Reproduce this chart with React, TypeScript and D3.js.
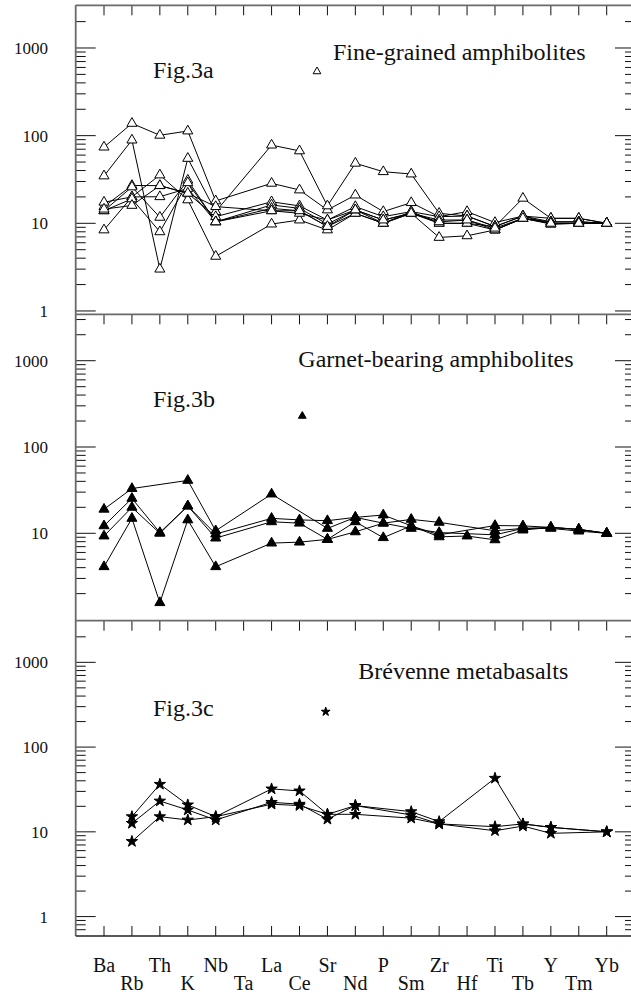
import React, { useEffect, useRef } from "react";
import * as d3 from "d3";

const WIDTH = 631;
const HEIGHT = 993;

const ELEMENTS = ["Ba", "Rb", "Th", "K", "Nb", "Ta", "La", "Ce", "Sr", "Nd", "P", "Sm", "Zr", "Hf", "Ti", "Tb", "Y", "Tm", "Yb"];

// Fig.3a - fine-grained amphibolites (open triangles)
//             Ba    Rb   Th    K    Nb  Ta    La   Ce   Sr    Nd    P     Sm    Zr    Hf    Ti    Tb    Y     Tm    Yb
const FINE_1 = [74, 138, 101, 113, 18, null, 28.6, 24, 14.2, 21, 13.6, 17.2, 11.9, 13.6, 10.2, 12.1, 11.4, 11.4, 10];
const FINE_2 = [34.7, 89, 3, 55, 13.6, null, 78, 67, 15.8, 48.4, 38.8, 36.5, 13, 12.1, 9.2, 19.3, 11.4, 11.4, 10];
const FINE_3 = [8.4, 20, 35.6, 18.5, 4.2, null, 9.8, 10.9, 8.4, 13, 10, 13, 6.9, 7.2, 8.4, 11.4, 10.4, 10.4, 10];
const FINE_4 = [15.5, 27, 26.9, 22, 11.9, null, 17.6, 15.8, 10.9, 15.5, 11.9, 13.6, 11.9, 12.1, 9.2, 12.1, 10.4, 10.4, 10];
const FINE_5 = [13.9, 26, 11.7, 31, 10.4, null, 16.2, 14.8, 9.8, 14.2, 10.9, 13, 10.9, 10.9, 8.4, 11.4, 9.8, 10, 10];
const FINE_6 = [17.4, 20, 20.1, 25, 10.4, null, 14.8, 13.9, 9.2, 13, 10, 13, 10, 10, 8.4, 11.4, 10, 10, 10];
const FINE_7 = [13.9, 19, 8, 29, 10.4, null, 13.9, 13, 10.9, 14.2, 10, 13.6, 10, 10, 9.2, 12.1, 9.8, 10, 10];
const FINE_8 = [14.5, 16, 26.9, 22, 15.5, null, 13.9, 13.9, 9.2, 14.2, 10.9, 13, 10.4, 10.9, 8.8, 11.4, 10, 10, 10];

// Fig.3b - garnet-bearing amphibolites (filled triangles)
const GARNET_1 = [19, 33, null, 41, 10.7, null, 28.5, null, 11.4, 15.3, 13.1, 14.5, 13.4, null, 10.7, 11.4, 11.7, 11.1, 10];
const GARNET_2 = [12.2, 25.4, 10.2, 20.7, 9.8, null, 14.9, 14.3, 14, 15.3, 16.3, 12.2, 9.6, null, 12.3, 12.2, 11.7, 11.1, 10];
const GARNET_3 = [9.3, 20, 10, 20.7, 8.8, null, 13.6, 13.1, 8.5, 13.6, 8.9, 12.2, 9.1, 9.3, 8.4, 10.9, 11.7, 11.1, 10];
const GARNET_4 = [4.1, 14.9, 1.57, 14.3, 4.1, null, 7.7, 7.9, 8.5, 10.4, 13.1, 11.4, 10.2, null, 9.6, 11.4, 11.4, 10.6, 10];

// Fig.3c - Brévenne metabasalts (stars)
const BREV_1 = [null, 15.1, 36.4, 20.8, 15.1, null, 32.1, 30.4, 16.1, 20.4, null, 17.3, 13.2, null, 42.9, 12.4, 11.3, null, 10];
const BREV_2 = [null, 12.6, 23.1, 18.1, 13.8, null, 22.3, 21.2, 14.1, 20.4, null, 15.8, 12.4, null, 11.5, 12.4, 11.3, null, 10];
const BREV_3 = [null, 7.7, 15.1, 13.8, 15.1, null, 21.2, 20.4, 16.1, 16.1, null, 14.5, 12.4, null, 10.3, 11.7, 9.6, null, 10];

const Y_LABELS_A = [1, 10, 100, 1000];
const Y_LABELS_B = [10, 100, 1000];
const Y_LABELS_C = [1, 10, 100, 1000];

const FONT = "'Liberation Serif', 'Times New Roman', serif";
const LEFT = 75.7;
const RIGHT = 635;
const X_FIRST = 104;
const X_LAST = 606.7;

const PANELS = [
  {
    top: 5.3, bottom: 314.3, domain: [0.916, 3070],
    series: [FINE_1, FINE_2, FINE_3, FINE_4, FINE_5, FINE_6, FINE_7, FINE_8],
    labels: Y_LABELS_A, marker: "open",
    fig: { text: "Fig.3a", x: 153, y: 78 },
    title: { text: "Fine-grained amphibolites", x: 333, y: 60 },
    legend: { x: 317, y: 71.5 },
  },
  {
    top: 314.3, bottom: 620.7, domain: [0.971, 3450],
    series: [GARNET_1, GARNET_2, GARNET_3, GARNET_4],
    labels: Y_LABELS_B, marker: "filled",
    fig: { text: "Fig.3b", x: 153, y: 406.5 },
    title: { text: "Garnet-bearing amphibolites", x: 298.3, y: 367 },
    legend: { x: 302.3, y: 416 },
  },
  {
    top: 620.7, bottom: 936, domain: [0.59, 3100],
    series: [BREV_1, BREV_2, BREV_3],
    labels: Y_LABELS_C, marker: "star",
    fig: { text: "Fig.3c", x: 153, y: 716 },
    title: { text: "Brévenne metabasalts", x: 358.3, y: 679.3 },
    legend: { x: 325.7, y: 711.7 },
  },
];

export default function App() {
  const ref = useRef<SVGSVGElement>(null);

  useEffect(() => {
    const svg = d3.select(ref.current);
    svg.selectAll("*").remove();

    const x = d3.scalePoint<string>().domain(ELEMENTS).range([X_FIRST, X_LAST]);

    const symbolPath = (kind: string, small: boolean) => {
      const type = kind === "star" ? d3.symbolStar : d3.symbolTriangle;
      const size = kind === "star" ? (small ? 24 : 40) : small ? 26 : 44;
      return d3.symbol().type(type).size(size)()!;
    };

    PANELS.forEach((p, pi) => {
      const y = d3.scaleLog().domain(p.domain).range([p.bottom, p.top]);
      const g = svg.append("g");

      // log ticks on both sides
      const ticks: { v: number; major: boolean }[] = [];
      for (let k = -1; k <= 3; k++) {
        for (let m = 1; m <= 9; m++) {
          const v = m * Math.pow(10, k);
          const py = y(v);
          if (py > p.top + 2 && py < p.bottom - 2) ticks.push({ v, major: m === 1 });
        }
      }
      g.selectAll(".lt").data(ticks).enter().append("line")
        .attr("x1", LEFT).attr("x2", (d) => LEFT + (d.major ? 20 : 10))
        .attr("y1", (d) => y(d.v)).attr("y2", (d) => y(d.v))
        .attr("stroke", "#111").attr("stroke-width", 1);
      g.selectAll(".rt").data(ticks).enter().append("line")
        .attr("x1", RIGHT).attr("x2", (d) => RIGHT - (d.major ? 20 : 10))
        .attr("y1", (d) => y(d.v)).attr("y2", (d) => y(d.v))
        .attr("stroke", "#111").attr("stroke-width", 1);

      // category ticks from top edge
      g.selectAll(".tt").data(ELEMENTS).enter().append("line")
        .attr("x1", (d) => x(d)!).attr("x2", (d) => x(d)!)
        .attr("y1", p.top).attr("y2", p.top + 10)
        .attr("stroke", "#111").attr("stroke-width", 1);
      if (pi === PANELS.length - 1) {
        g.selectAll(".bt").data(ELEMENTS).enter().append("line")
          .attr("x1", (d) => x(d)!).attr("x2", (d) => x(d)!)
          .attr("y1", p.bottom).attr("y2", p.bottom - 10)
          .attr("stroke", "#111").attr("stroke-width", 1);
      }

      // y labels
      g.selectAll(".yl").data(p.labels).enter().append("text")
        .attr("x", 48).attr("y", (d) => y(d)).attr("dy", "0.35em")
        .attr("text-anchor", "end").attr("font-family", FONT).attr("font-size", 17)
        .attr("fill", "#111").text((d) => String(d));

      // frame top line
      g.append("line").attr("x1", LEFT).attr("x2", RIGHT)
        .attr("y1", p.top).attr("y2", p.top)
        .attr("stroke", "#6a6a6a").attr("stroke-width", 1.8);

      // series lines
      const line = d3.line<[string, number]>().x((d) => x(d[0])!).y((d) => y(d[1]));
      const pts = p.series.map((s) =>
        ELEMENTS.map((e, i) => [e, s[i]] as [string, number | null]).filter((d) => d[1] != null) as [string, number][]
      );
      g.selectAll(".sl").data(pts).enter().append("path")
        .attr("d", (d) => line(d)).attr("fill", "none")
        .attr("stroke", "#000").attr("stroke-width", 1);

      // markers
      const fill = p.marker === "open" ? "#fff" : "#000";
      const flat = pts.flat();
      g.selectAll(".mk").data(flat).enter().append("path")
        .attr("d", symbolPath(p.marker, false))
        .attr("transform", (d) => `translate(${x(d[0])},${y(d[1])})`)
        .attr("fill", fill).attr("stroke", "#000").attr("stroke-width", 1);

      // legend symbol + texts
      g.append("path").attr("d", symbolPath(p.marker, true))
        .attr("transform", `translate(${p.legend.x},${p.legend.y})`)
        .attr("fill", fill).attr("stroke", "#000").attr("stroke-width", 1);
      g.append("text").attr("x", p.fig.x).attr("y", p.fig.y)
        .attr("font-family", FONT).attr("font-size", 24).attr("fill", "#111").text(p.fig.text);
      g.append("text").attr("x", p.title.x).attr("y", p.title.y)
        .attr("font-family", FONT).attr("font-size", 24).attr("fill", "#111").text(p.title.text);
    });

    const last = PANELS[PANELS.length - 1];
    // outer frame
    svg.append("line").attr("x1", LEFT).attr("x2", LEFT).attr("y1", PANELS[0].top).attr("y2", last.bottom)
      .attr("stroke", "#6a6a6a").attr("stroke-width", 1.8);
    svg.append("line").attr("x1", RIGHT).attr("x2", RIGHT).attr("y1", PANELS[0].top).attr("y2", last.bottom)
      .attr("stroke", "#6a6a6a").attr("stroke-width", 1.8);
    svg.append("line").attr("x1", LEFT).attr("x2", RIGHT).attr("y1", last.bottom).attr("y2", last.bottom)
      .attr("stroke", "#222").attr("stroke-width", 1.5);

    // element labels, staggered in two rows
    svg.selectAll(".xl").data(ELEMENTS).enter().append("text")
      .attr("x", (d) => x(d)!).attr("y", (_d, i) => (i % 2 === 0 ? 972 : 990))
      .attr("text-anchor", "middle").attr("font-family", FONT).attr("font-size", 20)
      .attr("fill", "#111").text((d) => d);
  }, []);

  return (
    <svg
      ref={ref}
      width={WIDTH}
      height={HEIGHT}
      style={{ position: "absolute", left: 0, top: 0, background: "#fff" }}
    />
  );
}
